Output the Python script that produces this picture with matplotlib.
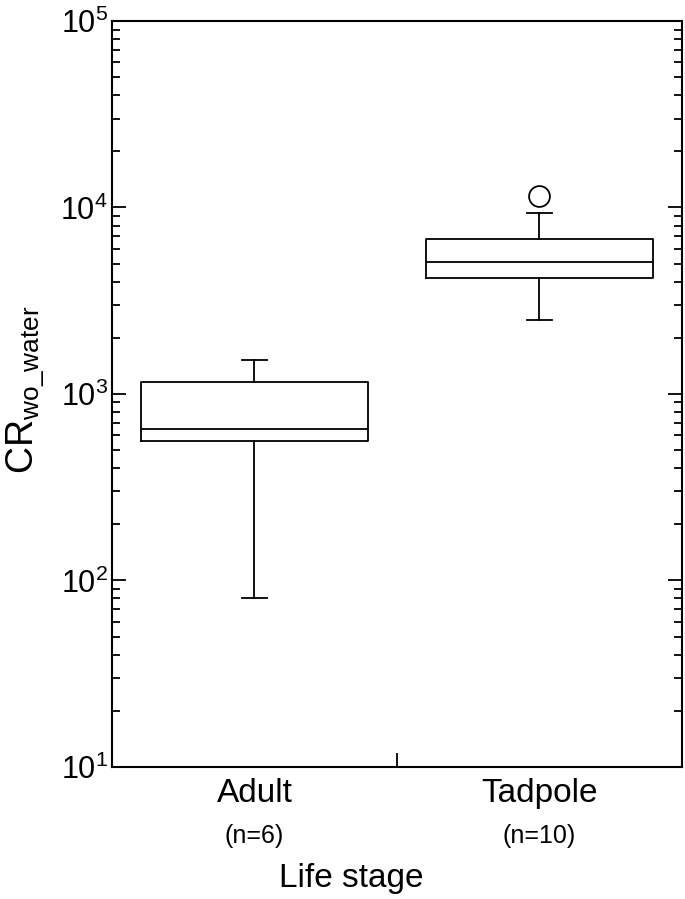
import matplotlib
matplotlib.use("Agg")
from matplotlib import pyplot as plt
from matplotlib.ticker import LogLocator, NullFormatter

plt.rcParams['font.family'] = ['Liberation Sans', 'DejaVu Sans']

# life stage groups
stages = ['Adult', 'Tadpole']
counts = [6, 10]
# box statistics
whislo = [80, 2500]
q1 = [560, 4190]
med = [645, 5100]
q3 = [1160, 6780]
whishi = [1520, 9350]
fliers = [[], [11500]]

stats = []
for i in range(len(stages)):
    stats.append(dict(whislo=whislo[i], q1=q1[i], med=med[i], q3=q3[i],
                      whishi=whishi[i], fliers=fliers[i], label=stages[i]))

fig = plt.figure(figsize=(6.85, 8.99), dpi=100)
ax = fig.add_axes([0.1635, 0.147, 0.832, 0.8296])

pos = [1, 3]
ax.bxp(stats, positions=pos, widths=1.59, showfliers=True,
       boxprops=dict(color='black', linewidth=1.3),
       medianprops=dict(color='black', linewidth=1.3),
       whiskerprops=dict(color='black', linewidth=1.3),
       capprops=dict(color='black', linewidth=1.3),
       capwidths=0.17,
       flierprops=dict(marker='o', markersize=15, markerfacecolor='none',
                       markeredgecolor='black', markeredgewidth=1.3))

ax.set_yscale('log')
ax.set_ylim(10, 1e5)
ax.set_xlim(0, 4)

ax.yaxis.set_major_locator(LogLocator(base=10, numticks=10))
ax.yaxis.set_minor_locator(LogLocator(base=10, subs=range(2, 10), numticks=20))
ax.yaxis.set_minor_formatter(NullFormatter())
ax.tick_params(axis='y', which='major', direction='in', length=10, width=1.3,
               right=True, labelsize=22, pad=3)
ax.tick_params(axis='y', which='minor', direction='in', length=6, width=1.3,
               right=True)

ax.set_xticks([2])
ax.set_xticklabels([''])
ax.tick_params(axis='x', which='major', direction='in', length=10, width=1.3)

for s in ax.spines.values():
    s.set_linewidth(1.5)

for p, name, n in zip(pos, stages, counts):
    ax.text(p, -0.015, name, transform=ax.get_xaxis_transform(),
            ha='center', va='top', fontsize=24)
    ax.text(p, -0.076, '(n=%d)' % n, transform=ax.get_xaxis_transform(),
            ha='center', va='top', fontsize=18)

fig.text(351 / 685, 1 - 878 / 899, 'Life stage', ha='center', va='center',
         fontsize=24)
ax.set_ylabel(r'CR$_{\mathregular{wo\_water}}$', fontsize=27, va='center')
ax.yaxis.set_label_coords(-0.152, 0.505)

fig.savefig('out.png', dpi=100)
